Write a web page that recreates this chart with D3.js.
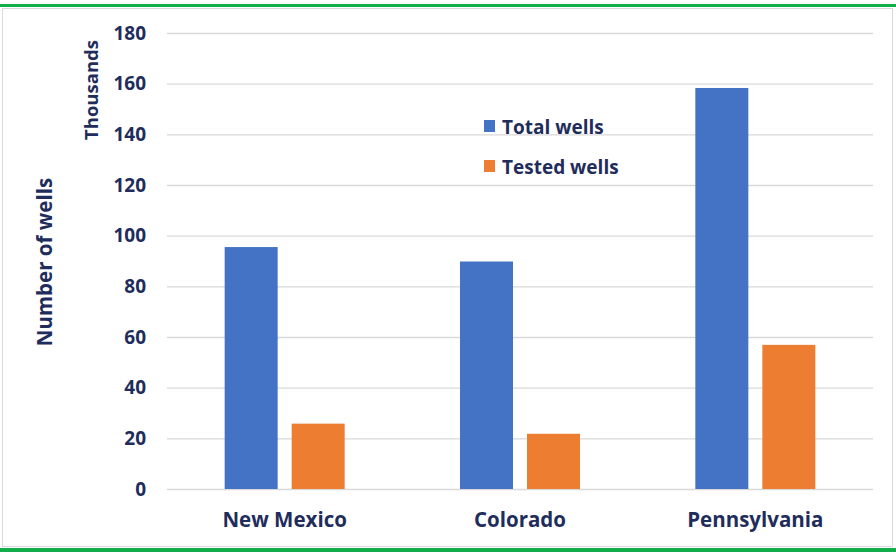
<!DOCTYPE html>
<html><head><meta charset="utf-8">
<script src="https://cdn.jsdelivr.net/npm/d3@7"></script>
<style>body{margin:0;background:#fff}svg{display:block}</style>
</head><body>
<svg id="c" width="896" height="552"></svg>
<script>
const categories = ["New Mexico", "Colorado", "Pennsylvania"];
const seriesNames = ["Total wells", "Tested wells"];
const totalWells = [95.5, 89.8, 158.3];
const testedWells = [25.8, 21.8, 56.9];
const yTicks = [0, 20, 40, 60, 80, 100, 120, 140, 160, 180];
const colors = ["#4472C4", "#ED7D31"];
const textColor = "#1F2D5C";
const font = "'Open Sans', 'Liberation Sans', sans-serif";

(function(){
const svg = d3.select("#c");
svg.append("rect").attr("x",0).attr("y",0).attr("width",896).attr("height",552).attr("fill","#fff");
svg.append("rect").attr("x",2.5).attr("y",8.5).attr("width",890).attr("height",538).attr("fill","none").attr("stroke","#d9d9d9");
svg.append("rect").attr("x",0).attr("y",4).attr("width",896).attr("height",3).attr("fill","#12AE4B");
svg.append("rect").attr("x",0).attr("y",548).attr("width",896).attr("height",4).attr("fill","#12AE4B");

const pL = 167, pR = 873, pT = 33, pB = 489;
const x = d3.scaleBand().domain(categories).range([pL, pR]);
const y = d3.scaleLinear().domain([0, 180]).range([pB, pT]);
const barW = 53, gap = 14;
const x1 = d3.scaleOrdinal().domain(seriesNames).range([-(barW + gap/2), gap/2]);

const yAxis = d3.axisLeft(y).tickValues(yTicks).tickSize(-(pR-pL)).tickPadding(21).tickFormat(d3.format("d"));
const gy = svg.append("g").attr("transform",`translate(${pL},0)`).call(yAxis);
gy.select(".domain").remove();
gy.selectAll(".tick line").attr("stroke","#d9d9d9").attr("stroke-width",1.3);
gy.selectAll(".tick text").attr("fill",textColor).attr("font-family",font).attr("font-weight","bold").attr("font-size",19);

const data = categories.map((c,i)=>({cat:c, vals:[totalWells[i], testedWells[i]]}));
const g = svg.append("g");
data.forEach(d=>{
  d.vals.forEach((v,j)=>{
    const cx = x(d.cat) + x.bandwidth()/2;
    g.append("rect").attr("x", cx + x1(seriesNames[j])).attr("width", barW)
      .attr("y", y(v)).attr("height", y(0)-y(v)).attr("fill", colors[j]);
  });
});

const xAxis = d3.axisBottom(x).tickSize(0).tickPadding(23);
const gx = svg.append("g").attr("transform",`translate(0,${pB})`).call(xAxis);
gx.select(".domain").remove();
gx.selectAll(".tick text").attr("fill",textColor).attr("font-family",font).attr("font-weight","bold").attr("font-size",20.5);

svg.append("text").attr("transform","translate(52,262) rotate(-90)").attr("text-anchor","middle")
  .attr("fill",textColor).attr("font-family",font).attr("font-weight","bold").attr("font-size",20.5).text("Number of wells");
svg.append("text").attr("transform","translate(98,90) rotate(-90)").attr("text-anchor","middle")
  .attr("fill",textColor).attr("font-family",font).attr("font-weight","bold").attr("font-size",18.5).text("Thousands");

const lg = svg.append("g");
seriesNames.forEach((s,i)=>{
  const yy = 127 + i*40;
  lg.append("rect").attr("x",484).attr("y",yy-7).attr("width",11).attr("height",12).attr("fill",colors[i]);
  lg.append("text").attr("x",502).attr("y",yy+7).attr("fill",textColor).attr("font-family",font)
    .attr("font-weight","bold").attr("font-size",19).text(s);
});
})();
</script>
</body></html>
